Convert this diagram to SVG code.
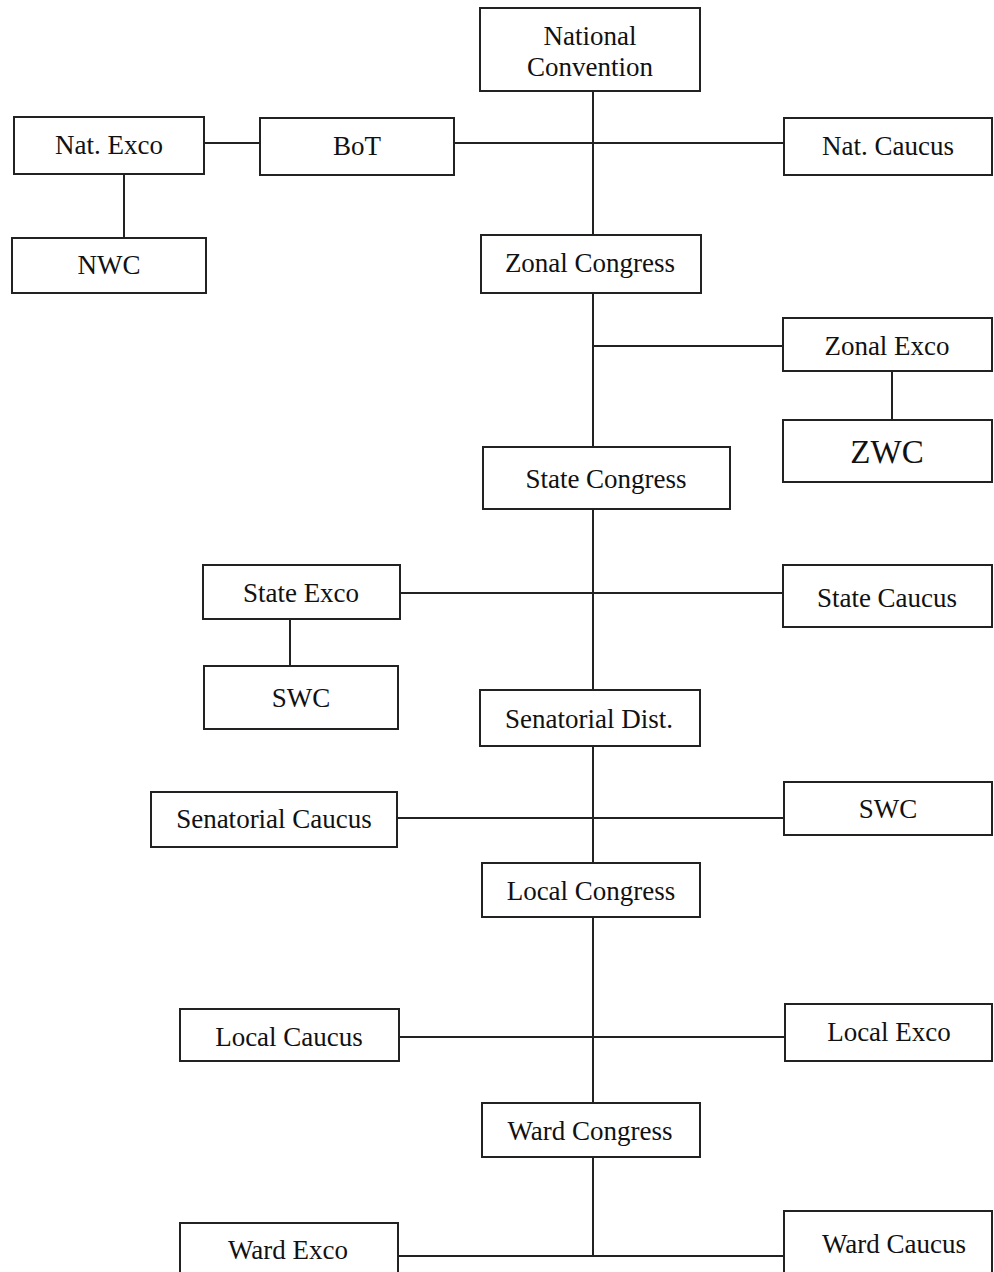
<svg xmlns="http://www.w3.org/2000/svg" width="994" height="1272" viewBox="0 0 994 1272">
<style>
rect{fill:#fff;stroke:#222;stroke-width:2}
line{stroke:#222;stroke-width:2}
text{font-family:"Liberation Serif","Times New Roman",serif;font-size:27px;fill:#111;text-anchor:middle}
.big{font-size:33px}
</style>
<rect x="0" y="0" width="994" height="1272" style="fill:#fff;stroke:none"/>
<g id="connectors">
<line x1="593" y1="91" x2="593" y2="1256"/>
<line x1="204" y1="143" x2="260" y2="143"/>
<line x1="454" y1="143" x2="784" y2="143"/>
<line x1="124" y1="174" x2="124" y2="238"/>
<line x1="593" y1="346" x2="783" y2="346"/>
<line x1="892" y1="371" x2="892" y2="420"/>
<line x1="400" y1="593" x2="783" y2="593"/>
<line x1="290" y1="619" x2="290" y2="666"/>
<line x1="397" y1="818" x2="784" y2="818"/>
<line x1="399" y1="1037" x2="785" y2="1037"/>
<line x1="398" y1="1256" x2="784" y2="1256"/>
</g>
<g id="national-convention"><rect x="480" y="8" width="220" height="83"/><text x="590" y="45">National</text><text x="590" y="76">Convention</text></g>
<g id="nat-exco"><rect x="14" y="117" width="190" height="57"/><text x="109" y="154">Nat. Exco</text></g>
<g id="bot"><rect x="260" y="118" width="194" height="57"/><text x="357" y="155">BoT</text></g>
<g id="nat-caucus"><rect x="784" y="118" width="208" height="57"/><text x="888" y="155">Nat. Caucus</text></g>
<g id="nwc"><rect x="12" y="238" width="194" height="55"/><text x="109" y="274">NWC</text></g>
<g id="zonal-congress"><rect x="481" y="235" width="220" height="58"/><text x="590" y="272">Zonal Congress</text></g>
<g id="zonal-exco"><rect x="783" y="318" width="209" height="53"/><text x="887" y="355">Zonal Exco</text></g>
<g id="zwc"><rect x="783" y="420" width="209" height="62"/><text class="big" x="887" y="463">ZWC</text></g>
<g id="state-congress"><rect x="483" y="447" width="247" height="62"/><text x="606" y="488">State Congress</text></g>
<g id="state-exco"><rect x="203" y="565" width="197" height="54"/><text x="301" y="602">State Exco</text></g>
<g id="state-caucus"><rect x="783" y="565" width="209" height="62"/><text x="887" y="607">State Caucus</text></g>
<g id="swc-left"><rect x="204" y="666" width="194" height="63"/><text x="301" y="707">SWC</text></g>
<g id="senatorial-dist"><rect x="480" y="690" width="220" height="56"/><text x="589" y="728">Senatorial Dist.</text></g>
<g id="swc-right"><rect x="784" y="782" width="208" height="53"/><text x="888" y="818">SWC</text></g>
<g id="senatorial-caucus"><rect x="151" y="792" width="246" height="55"/><text x="274" y="828">Senatorial Caucus</text></g>
<g id="local-congress"><rect x="482" y="863" width="218" height="54"/><text x="591" y="900">Local Congress</text></g>
<g id="local-exco"><rect x="785" y="1004" width="207" height="57"/><text x="889" y="1041">Local Exco</text></g>
<g id="local-caucus"><rect x="180" y="1009" width="219" height="52"/><text x="289" y="1046">Local Caucus</text></g>
<g id="ward-congress"><rect x="482" y="1103" width="218" height="54"/><text x="590" y="1140">Ward Congress</text></g>
<g id="ward-caucus"><rect x="784" y="1211" width="208" height="80"/><text x="894" y="1253">Ward Caucus</text></g>
<g id="ward-exco"><rect x="180" y="1223" width="218" height="70"/><text x="288" y="1259">Ward Exco</text></g>
</svg>
